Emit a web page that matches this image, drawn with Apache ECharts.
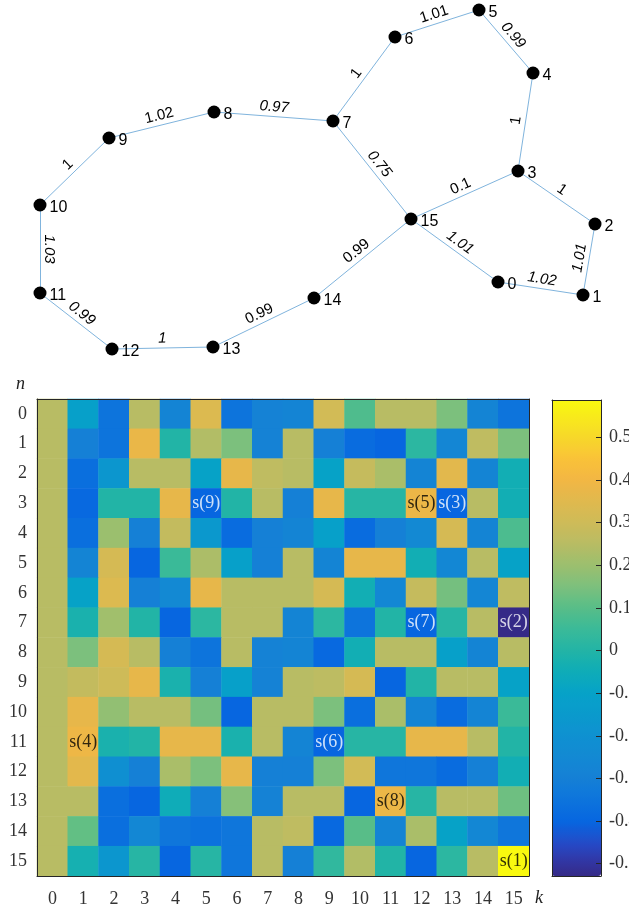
<!DOCTYPE html>
<html>
<head>
<meta charset="utf-8">
<script src="https://cdn.jsdelivr.net/npm/echarts@6/dist/echarts.min.js"></script>
<style>
html,body{margin:0;padding:0;background:#fff;}
#main{width:629px;height:909px;}
</style>
</head>
<body>
<div id="main"></div>
<script>
// ---- graph: node layout and weighted edges ----
var nodeNames = ['0','1','2','3','4','5','6','7','8','9','10','11','12','13','14','15'];
var nodeX = [498, 583, 595, 518, 533, 479, 395, 333, 214, 109, 40, 40, 112, 213, 314, 411];
var nodeY = [282, 295, 224, 171, 73, 10, 37, 121, 112, 138, 205, 293, 349, 347, 298, 219];
var edgeFrom   = [0, 1, 2, 3, 4, 5, 6, 7, 8, 9, 10, 11, 12, 13, 14, 15, 15, 7];
var edgeTo     = [1, 2, 3, 4, 5, 6, 7, 8, 9, 10, 11, 12, 13, 14, 15, 0, 3, 15];
var edgeWeight = [1.02, 1.01, 1, 1, 0.99, 1.01, 1, 0.97, 1.02, 1, 1.03, 0.99, 1, 0.99, 0.99, 1.01, 0.1, 0.75];
var edgeItalic = [1, 1, 0, 0, 1, 0, 0, 1, 0, 0, 1, 1, 1, 0, 0, 1, 0, 1];

// ---- heatmap: rows n = 0..15, columns k = 0..15 ----
var kLabels = ['0','1','2','3','4','5','6','7','8','9','10','11','12','13','14','15'];
var nLabels = ['0','1','2','3','4','5','6','7','8','9','10','11','12','13','14','15'];
var cellRows = [
  [0.25, -0.11, -0.35, 0.25, -0.28, 0.34, -0.35, -0.29, -0.28, 0.31, 0.085, 0.25, 0.25, 0.15, -0.28, -0.35],
  [0.25, -0.30, -0.35, 0.38, 0.00, 0.24, 0.15, -0.29, 0.25, -0.30, -0.38, -0.40, 0.02, -0.27, 0.265, 0.15],
  [0.25, -0.37, -0.17, 0.25, 0.25, -0.10, 0.37, 0.265, 0.25, -0.10, 0.28, 0.225, -0.28, 0.355, -0.28, -0.04],
  [0.25, -0.39, 0.00, 0.00, 0.37, -0.40, 0.00, 0.25, -0.30, 0.37, 0.01, 0.01, 0.385, -0.40, 0.25, -0.04],
  [0.25, -0.37, 0.20, -0.30, 0.275, -0.16, -0.38, -0.30, -0.28, -0.11, -0.38, -0.30, -0.25, 0.32, -0.28, 0.08],
  [0.25, -0.28, 0.32, -0.40, 0.05, 0.23, -0.11, -0.30, 0.25, -0.28, 0.37, 0.37, -0.04, -0.26, 0.25, -0.10],
  [0.25, -0.10, 0.34, -0.30, -0.25, 0.37, 0.25, 0.25, 0.25, 0.32, -0.04, -0.26, 0.28, 0.14, -0.27, 0.265],
  [0.25, -0.02, 0.21, 0.00, -0.40, 0.02, 0.25, 0.25, -0.28, 0.02, -0.35, 0.00, -0.40, 0.01, 0.25, -0.529],
  [0.25, 0.15, 0.32, 0.25, -0.30, -0.35, 0.25, -0.29, -0.28, -0.39, -0.04, 0.25, 0.25, -0.11, -0.28, 0.25],
  [0.25, 0.275, 0.30, 0.37, -0.02, -0.30, -0.11, -0.29, 0.25, 0.26, 0.32, -0.40, 0.00, 0.25, 0.25, -0.10],
  [0.25, 0.37, 0.185, 0.25, 0.25, 0.14, -0.40, 0.25, 0.25, 0.15, -0.37, 0.225, -0.28, -0.38, -0.28, 0.05],
  [0.25, 0.39, -0.02, 0.00, 0.37, 0.37, -0.02, 0.25, -0.28, -0.40, 0.01, 0.01, 0.37, 0.37, 0.25, 0.00],
  [0.25, 0.36, -0.21, -0.30, 0.225, 0.15, 0.37, -0.30, -0.30, 0.15, 0.31, -0.34, -0.34, -0.38, -0.30, -0.04],
  [0.25, 0.25, -0.37, -0.40, -0.05, -0.30, 0.165, -0.29, 0.25, 0.25, -0.40, 0.385, 0.01, 0.25, 0.25, 0.13],
  [0.25, 0.115, -0.37, -0.26, -0.34, -0.36, -0.34, 0.25, 0.265, -0.39, 0.10, -0.28, 0.225, -0.10, -0.26, -0.34],
  [0.25, -0.03, -0.17, 0.01, -0.40, 0.01, -0.34, 0.25, -0.30, 0.03, 0.24, 0.00, -0.40, 0.02, 0.25, 0.588]
];
// annotated cells s(i)
var annText = ['s(1)', 's(2)', 's(3)', 's(4)', 's(5)', 's(6)', 's(7)', 's(8)', 's(9)'];
var annK    = [15, 15, 13, 1, 12, 9, 12, 11, 5];
var annN    = [15, 7, 3, 11, 3, 11, 7, 13, 3];

// colour bar
var cMin = -0.529, cMax = 0.588;
var cbTicks = [-0.5, -0.4, -0.3, -0.2, -0.1, 0, 0.1, 0.2, 0.3, 0.4, 0.5];
var cmapVals = [-0.529, -0.49, -0.455, -0.40, -0.35, -0.30, -0.25, -0.20, -0.15, -0.10, -0.05, 0.00,
                0.05, 0.10, 0.15, 0.20, 0.25, 0.30, 0.35, 0.40, 0.45, 0.50, 0.588];
var cmapCols = ['#352A87', '#3138A8', '#2649C6', '#0667E1', '#0D74DC', '#1580D6', '#1389D3', '#0F91D1',
                '#0A9ACC', '#06A2C8', '#0EACB8', '#22B4A6', '#3ABA98', '#58BE88', '#7CC07D', '#9CBF6E',
                '#B8BC64', '#CEBB58', '#E0B94E', '#F2B644', '#F9C238', '#F7D82A', '#F9F90F'];

function hexRgb(h) {
  return [parseInt(h.substr(1, 2), 16), parseInt(h.substr(3, 2), 16), parseInt(h.substr(5, 2), 16)];
}
function rampColor(v) {
  for (var i = 0; i < cmapVals.length - 1; i++) {
    if (v <= cmapVals[i + 1]) {
      var t = Math.max(0, (v - cmapVals[i]) / (cmapVals[i + 1] - cmapVals[i]));
      var a = hexRgb(cmapCols[i]), b = hexRgb(cmapCols[i + 1]);
      return 'rgb(' + Math.round(a[0] + (b[0] - a[0]) * t) + ',' +
        Math.round(a[1] + (b[1] - a[1]) * t) + ',' + Math.round(a[2] + (b[2] - a[2]) * t) + ')';
    }
  }
  return cmapCols[cmapCols.length - 1];
}
var ramp = [];
for (var i = 0; i < 80; i++) {
  ramp.push(rampColor(cMin + (cMax - cMin) * i / 79));
}

var nodes = [];
for (var i = 0; i < nodeNames.length; i++) {
  nodes.push({ name: nodeNames[i], value: [nodeX[i], nodeY[i]] });
}
var links = [];
for (var i = 0; i < edgeFrom.length; i++) {
  links.push({
    source: nodeNames[edgeFrom[i]], target: nodeNames[edgeTo[i]], value: edgeWeight[i],
    label: { fontStyle: edgeItalic[i] ? 'italic' : 'normal' }
  });
}

var cells = [];
for (var n = 0; n < cellRows.length; n++) {
  for (var k = 0; k < cellRows[n].length; k++) {
    cells.push([k, n, cellRows[n][k]]);
  }
}
var anns = [];
for (var i = 0; i < annText.length; i++) {
  var v = cellRows[annN[i]][annK[i]];
  anns.push({
    name: annText[i], value: [annK[i], annN[i]],
    label: { color: v < 0 ? '#ffffff' : '#000000' }
  });
}

var axisCol = '#262626';
var serif = 'Liberation Serif';
var fmtTick = function (v) {
  var r = Math.round(v * 10) / 10;
  return r === 0 ? '0' : r.toFixed(1);
};

var chart = echarts.init(document.getElementById('main'));
var option = {
  backgroundColor: '#ffffff',
  animation: false,
  grid: [
    { left: 0, top: 0, width: 629, height: 360, outerBoundsMode: 'none', containLabel: false },
    { left: 37, top: 399, width: 492, height: 477, outerBoundsMode: 'none', containLabel: false },
    { left: 552, top: 400, width: 49, height: 476, outerBoundsMode: 'none', containLabel: false }
  ],
  xAxis: [
    { type: 'value', gridIndex: 0, min: 0, max: 629, show: false },
    {
      type: 'category', gridIndex: 1, data: kLabels, position: 'bottom', z: 10,
      axisLine: { onZero: false, lineStyle: { color: axisCol, width: 1 } },
      axisTick: { inside: true, alignWithLabel: true, length: 5, lineStyle: { color: axisCol } },
      axisLabel: { margin: 14, color: '#333', fontFamily: serif, fontSize: 18 },
      name: 'k', nameLocation: 'end', nameGap: 6,
      nameTextStyle: { fontFamily: serif, fontStyle: 'italic', fontSize: 18, color: '#222',
        align: 'left', verticalAlign: 'top', padding: [13, 0, 0, 0] }
    },
    {
      type: 'category', gridIndex: 1, data: kLabels, position: 'top', z: 10,
      axisLine: { onZero: false, lineStyle: { color: axisCol, width: 1 } },
      axisTick: { inside: true, alignWithLabel: true, length: 5, lineStyle: { color: axisCol } },
      axisLabel: { show: false }
    },
    {
      type: 'value', gridIndex: 2, min: 0, max: 1, position: 'bottom', z: 10,
      axisLine: { onZero: false, lineStyle: { color: axisCol } },
      axisTick: { show: false }, axisLabel: { show: false }, splitLine: { show: false }
    },
    {
      type: 'value', gridIndex: 2, min: 0, max: 1, position: 'top', z: 10,
      axisLine: { onZero: false, lineStyle: { color: axisCol } },
      axisTick: { show: false }, axisLabel: { show: false }, splitLine: { show: false }
    }
  ],
  yAxis: [
    { type: 'value', gridIndex: 0, min: 0, max: 360, inverse: true, show: false },
    {
      type: 'category', gridIndex: 1, data: nLabels, inverse: true, position: 'left', z: 10,
      axisLine: { onZero: false, lineStyle: { color: axisCol, width: 1 } },
      axisTick: { inside: true, alignWithLabel: true, length: 5, lineStyle: { color: axisCol } },
      axisLabel: { margin: 10, color: '#333', fontFamily: serif, fontSize: 18 },
      name: 'n', nameLocation: 'start', nameGap: 6,
      nameTextStyle: { fontFamily: serif, fontStyle: 'italic', fontSize: 18, color: '#222',
        align: 'right', verticalAlign: 'bottom', padding: [0, 12, 0, 0] }
    },
    {
      type: 'category', gridIndex: 1, data: nLabels, inverse: true, position: 'right', z: 10,
      axisLine: { onZero: false, lineStyle: { color: axisCol, width: 1 } },
      axisTick: { inside: true, alignWithLabel: true, length: 5, lineStyle: { color: axisCol } },
      axisLabel: { show: false }
    },
    {
      type: 'value', gridIndex: 2, min: cMin, max: cMax, position: 'right', z: 10,
      axisLine: { onZero: false, lineStyle: { color: axisCol } },
      axisTick: { inside: true, length: 5, customValues: cbTicks, lineStyle: { color: axisCol } },
      axisLabel: { customValues: cbTicks, formatter: fmtTick, margin: 8, color: '#333', fontFamily: serif, fontSize: 18 },
      splitLine: { show: false }
    },
    {
      type: 'value', gridIndex: 2, min: cMin, max: cMax, position: 'left', z: 10,
      axisLine: { onZero: false, lineStyle: { color: axisCol } },
      axisTick: { show: false }, axisLabel: { show: false }, splitLine: { show: false }
    }
  ],
  visualMap: {
    type: 'continuous', seriesIndex: 1, min: cMin, max: cMax,
    inRange: { color: ramp },
    calculable: false, hoverLink: false, realtime: false,
    left: 552, top: 400, itemWidth: 49, itemHeight: 476, padding: 0,
    text: null, textGap: 0, z: 1
  },
  series: [
    {
      type: 'graph', coordinateSystem: 'cartesian2d', xAxisIndex: 0, yAxisIndex: 0,
      layout: 'none', roam: false, silent: true,
      symbol: 'circle', symbolSize: 13,
      itemStyle: { color: '#000000' },
      label: {
        show: true, position: 'right', distance: 3, offset: [0, 3], formatter: '{b}',
        color: '#000', fontFamily: 'Liberation Sans', fontSize: 16
      },
      lineStyle: { color: '#80b4dd', width: 1, opacity: 1, curveness: 0 },
      edgeLabel: {
        show: true, position: 'insideMiddleTop', distance: 2,
        formatter: function (p) { return String(p.data.value); },
        color: '#000', fontFamily: 'Liberation Sans', fontSize: 15
      },
      emphasis: { disabled: true },
      data: nodes,
      links: links
    },
    {
      type: 'heatmap', xAxisIndex: 1, yAxisIndex: 1,
      data: cells, silent: true,
      emphasis: { disabled: true }
    },
    {
      type: 'scatter', xAxisIndex: 1, yAxisIndex: 1, symbolSize: 0, silent: true, z: 5,
      label: { show: true, position: 'inside', formatter: '{b}', fontFamily: serif, fontSize: 18 },
      data: anns
    }
  ]
};
chart.setOption(option);
</script>
</body>
</html>
